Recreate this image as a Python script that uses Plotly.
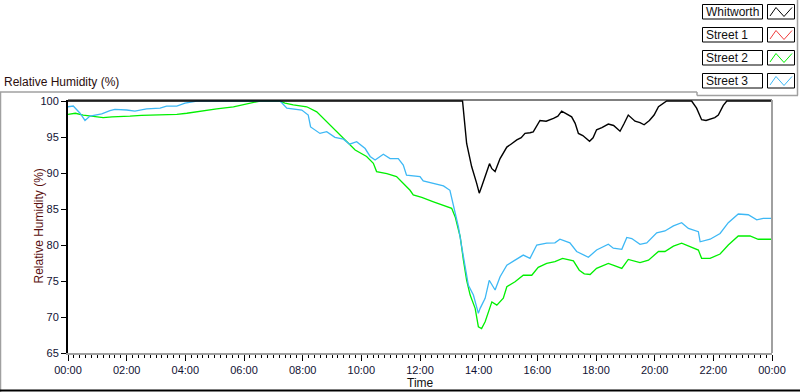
import plotly.graph_objects as go

# ---------------- data (hours since midnight, relative humidity %) ----------------
series_names = ["Whitworth", "Street 1", "Street 2", "Street 3"]
series_colors = ["#000000", "#f03c3c", "#00f000", "#3db8f5"]

whitworth_hours = [0, 13.45, 13.59, 13.76, 13.93, 14.02, 14.1, 14.25, 14.37, 14.45,
                   14.56, 14.73, 14.85, 14.96, 15.1, 15.3, 15.45, 15.58, 15.75, 15.86,
                   16.09, 16.3, 16.55, 16.7, 16.83, 17.0, 17.17, 17.29, 17.4, 17.55,
                   17.78, 17.9, 18.02, 18.2, 18.42, 18.6, 18.82, 18.95, 19.1, 19.33,
                   19.5, 19.64, 19.82, 19.98, 20.13, 20.41, 21.26, 21.43, 21.6, 21.75,
                   21.89, 22.05, 22.17, 22.34, 22.46, 24]
whitworth_rh = [100, 100, 94.1, 90.9, 88.6, 87.2, 88.1, 90.0, 91.3, 90.6,
                90.2, 92.0, 92.8, 93.6, 94.0, 94.6, 94.9, 95.5, 95.6, 95.7,
                97.3, 97.2, 97.6, 97.9, 98.6, 98.2, 97.8, 96.9, 95.5, 95.2,
                94.4, 94.9, 96.0, 96.3, 96.8, 96.6, 95.8, 96.8, 98.05, 97.2,
                97.0, 96.7, 97.3, 98.05, 99.2, 100, 100, 99.0, 97.4, 97.3,
                97.5, 97.7, 98.05, 99.4, 100, 100]

street1_hours = []
street1_rh = []

street2_hours = [0, 0.25, 0.52, 0.81, 1.0, 1.2, 1.5, 1.77, 2.11, 2.5,
                 2.91, 3.3, 3.71, 4.05, 4.5, 5.07, 5.64, 6.15, 6.55, 7.2,
                 7.4, 7.68, 8.14, 8.48, 8.82, 9.16, 9.5, 9.79, 10.18, 10.41,
                 10.52, 10.87, 11.2, 11.38, 11.66, 11.77, 12.06, 12.46, 12.8, 13.08,
                 13.2, 13.37, 13.48, 13.59, 13.71, 13.88, 13.99, 14.1, 14.22, 14.33,
                 14.45, 14.62, 14.84, 14.96, 15.24, 15.52, 15.81, 16.03, 16.32, 16.6,
                 16.86, 17.23, 17.43, 17.6, 17.8, 18.02, 18.42, 18.65, 18.88, 19.1,
                 19.5, 19.79, 20.13, 20.35, 20.64, 20.92, 21.21, 21.49, 21.6, 21.89,
                 22.23, 22.51, 22.85, 23.25, 23.53, 24]
street2_rh = [98.15, 98.3, 98.05, 97.9, 97.8, 97.7, 97.8, 97.8, 97.9, 98.0,
              98.05, 98.1, 98.15, 98.3, 98.6, 98.9, 99.2, 99.6, 100, 100,
              99.7, 99.45, 99.2, 98.5, 97.1, 95.75, 94.35, 93.2, 92.3, 91.35,
              90.2, 89.9, 89.5, 88.8, 87.6, 86.95, 86.6, 86.0, 85.55, 85.1,
              83.9, 81.15, 77.9, 75.1, 73.05, 71.2, 68.65, 68.4, 69.35, 70.75,
              72.1, 71.65, 72.6, 74.2, 74.9, 75.8, 75.8, 76.9, 77.45, 77.7,
              78.15, 77.8, 76.5, 76.0, 75.9, 76.75, 77.45, 77.1, 76.75, 78.0,
              77.55, 77.9, 79.1, 79.1, 79.85, 80.25, 79.8, 79.3, 78.15, 78.15,
              78.75, 80.0, 81.25, 81.25, 80.8, 80.8]

street3_hours = [0, 0.18, 0.41, 0.58, 0.75, 0.98, 1.15, 1.43, 1.6, 2.0,
                 2.28, 2.68, 3.14, 3.36, 3.71, 3.99, 4.39, 7.23, 7.46, 7.97,
                 8.19, 8.27, 8.59, 8.82, 9.1, 9.39, 9.6, 9.84, 10.13, 10.3,
                 10.47, 10.75, 10.98, 11.26, 11.43, 11.54, 12.0, 12.11, 12.46, 12.8,
                 13.02, 13.14, 13.31, 13.42, 13.54, 13.65, 13.82, 13.99, 14.05, 14.22,
                 14.36, 14.56, 14.73, 14.96, 15.24, 15.52, 15.75, 15.98, 16.32, 16.6,
                 16.77, 17.11, 17.34, 17.51, 17.74, 18.02, 18.42, 18.59, 18.88, 19.05,
                 19.22, 19.5, 19.73, 20.07, 20.35, 20.64, 20.92, 21.15, 21.49, 21.55,
                 21.89, 22.23, 22.51, 22.85, 23.19, 23.48, 23.7, 24]
street3_rh = [99.2, 99.3, 98.3, 97.3, 97.9, 98.05, 98.2, 98.65, 98.85, 98.75,
              98.6, 98.9, 99.0, 99.3, 99.3, 99.7, 100, 100, 99.0, 98.75,
              98.05, 96.4, 95.5, 95.75, 94.95, 94.7, 94.0, 94.35, 93.4, 92.3,
              91.8, 92.6, 92.0, 92.0, 91.1, 89.7, 89.5, 88.9, 88.5, 88.2,
              87.6, 85.3, 82.5, 79.8, 77.0, 74.4, 73.05, 70.5, 71.2, 72.6,
              75.1, 73.75, 75.6, 77.2, 77.9, 78.6, 78.15, 80.0, 80.25, 80.3,
              80.8, 80.3, 79.1, 78.75, 78.3, 79.3, 80.1, 79.55, 79.4, 81.05,
              80.9, 80.1, 80.3, 81.7, 81.95, 82.65, 83.1, 82.3, 81.85, 80.45,
              80.8, 81.6, 83.1, 84.3, 84.2, 83.5, 83.7, 83.7]

x_tick_values = [0, 2, 4, 6, 8, 10, 12, 14, 16, 18, 20, 22, 24]
x_tick_labels = ["00:00", "02:00", "04:00", "06:00", "08:00", "10:00", "12:00",
                 "14:00", "16:00", "18:00", "20:00", "22:00", "00:00"]
y_tick_values = [65, 70, 75, 80, 85, 90, 95, 100]

chart_title = "Relative Humidity (%)"
x_title = "Time"
y_title = "Relative Humidity (%)"

# ---------------- layout geometry ----------------
W, H = 800, 392
L, R, T, B = 68, 28, 100, 39
PW, PH = W - L - R, H - T - B


def xp(X):
    return (X - L) / PW


def yp(Y):
    return (H - B - Y) / PH


TEXT_FONT = "Liberation Sans, Arial, sans-serif"

fig = go.Figure()

# draw order: streets first, Whitworth on top
traces = [
    (street1_hours, street1_rh, 1),
    (street2_hours, street2_rh, 2),
    (street3_hours, street3_rh, 3),
    (whitworth_hours, whitworth_rh, 0),
]
for hrs, vals, idx in traces:
    fig.add_trace(go.Scatter(
        x=hrs, y=vals, mode="lines", name=series_names[idx],
        line=dict(color=series_colors[idx], width=1.4 if idx == 0 else 1.3),
        showlegend=False, hoverinfo="skip",
    ))

shapes = []
# plot-area frame: top black, right gray
shapes.append(dict(type="line", xref="paper", yref="paper", x0=0, x1=1, y0=1, y1=1,
                   line=dict(color="black", width=1)))
shapes.append(dict(type="line", xref="paper", yref="paper", x0=1, x1=1, y0=0, y1=1,
                   line=dict(color="#a0a0a0", width=2)))
# outer panel lines
shapes.append(dict(type="line", xref="paper", yref="paper", x0=xp(0.5), x1=xp(0.5),
                   y0=yp(92), y1=yp(392), line=dict(color="#a0a0a0", width=1.5)))
shapes.append(dict(type="line", xref="paper", yref="paper", x0=xp(0), x1=xp(697),
                   y0=yp(92), y1=yp(92), line=dict(color="#a0a0a0", width=1.5)))
shapes.append(dict(type="line", xref="paper", yref="paper", x0=xp(0), x1=xp(800),
                   y0=yp(390.5), y1=yp(390.5), line=dict(color="#000000", width=2)))
# legend panel border
shapes.append(dict(type="line", xref="paper", yref="paper", x0=xp(697), x1=xp(697),
                   y0=yp(92), y1=yp(95.5), line=dict(color="#a0a0a0", width=1.5)))
shapes.append(dict(type="line", xref="paper", yref="paper", x0=xp(697), x1=xp(798),
                   y0=yp(95.5), y1=yp(95.5), line=dict(color="#a0a0a0", width=1.5)))
shapes.append(dict(type="line", xref="paper", yref="paper", x0=xp(797.5), x1=xp(797.5),
                   y0=yp(0), y1=yp(95.5), line=dict(color="#a0a0a0", width=1.5)))

annotations = []
legend_tops = [4.5, 27.5, 50.5, 73.5]
box_h = 14.5
for i, name in enumerate(series_names):
    t = legend_tops[i]
    shapes.append(dict(type="rect", xref="paper", yref="paper",
                       x0=xp(702.5), x1=xp(762.5), y0=yp(t), y1=yp(t + box_h),
                       line=dict(color="black", width=1), fillcolor="white"))
    shapes.append(dict(type="rect", xref="paper", yref="paper",
                       x0=xp(767.5), x1=xp(794.5), y0=yp(t), y1=yp(t + box_h),
                       line=dict(color="black", width=1), fillcolor="white"))
    pts = [(770, t + 11.5), (776, t + 3), (784, t + 12), (792, t + 3)]
    path = "M " + " L ".join(f"{xp(a):.5f},{yp(b):.5f}" for a, b in pts)
    shapes.append(dict(type="path", xref="paper", yref="paper", path=path,
                       line=dict(color=series_colors[i], width=1)))
    annotations.append(dict(xref="paper", yref="paper", x=xp(704), y=yp(t + box_h / 2),
                            xanchor="left", yanchor="middle", showarrow=False,
                            text=name, font=dict(family=TEXT_FONT, size=12, color="#111111")))

annotations.append(dict(xref="paper", yref="paper", x=xp(2), y=yp(82),
                        xanchor="left", yanchor="middle", showarrow=False,
                        text=chart_title,
                        font=dict(family=TEXT_FONT, size=12, color="#2a0d0d")))
annotations.append(dict(xref="paper", yref="paper", x=xp(38), y=0.5,
                        xanchor="center", yanchor="middle", showarrow=False,
                        textangle=-90, text=y_title,
                        font=dict(family=TEXT_FONT, size=12, color="#5a1010")))
annotations.append(dict(xref="paper", yref="paper", x=0.5, y=yp(383),
                        xanchor="center", yanchor="middle", showarrow=False,
                        text=x_title, font=dict(family=TEXT_FONT, size=12, color="#111111")))

fig.update_layout(
    width=W, height=H,
    margin=dict(l=L, r=R, t=T, b=B, pad=0),
    paper_bgcolor="white", plot_bgcolor="white",
    showlegend=False,
    shapes=shapes, annotations=annotations,
    xaxis=dict(
        range=[0, 24], tickmode="array", tickvals=x_tick_values, ticktext=x_tick_labels,
        showgrid=False, zeroline=False,
        showline=True, linecolor="#a0a0a0", linewidth=2,
        ticks="outside", ticklen=6, tickwidth=1, tickcolor="black",
        tickfont=dict(family=TEXT_FONT, size=11, color="#111133"),
        minor=dict(tickmode="linear", tick0=0, dtick=0.2, ticks="outside",
                   ticklen=3, tickwidth=1, tickcolor="black", showgrid=False),
        fixedrange=True,
    ),
    yaxis=dict(
        range=[65, 100.14], tickmode="array", tickvals=y_tick_values,
        showgrid=False, zeroline=False,
        showline=True, linecolor="black", linewidth=2,
        ticks="outside", ticklen=5, tickwidth=1, tickcolor="black",
        tickfont=dict(family=TEXT_FONT, size=11, color="#111133"),
        fixedrange=True,
    ),
)

fig.write_html(
    "out.html",
    config={"displayModeBar": False},
    post_script="document.body.style.margin='0';document.body.style.padding='0';",
)
